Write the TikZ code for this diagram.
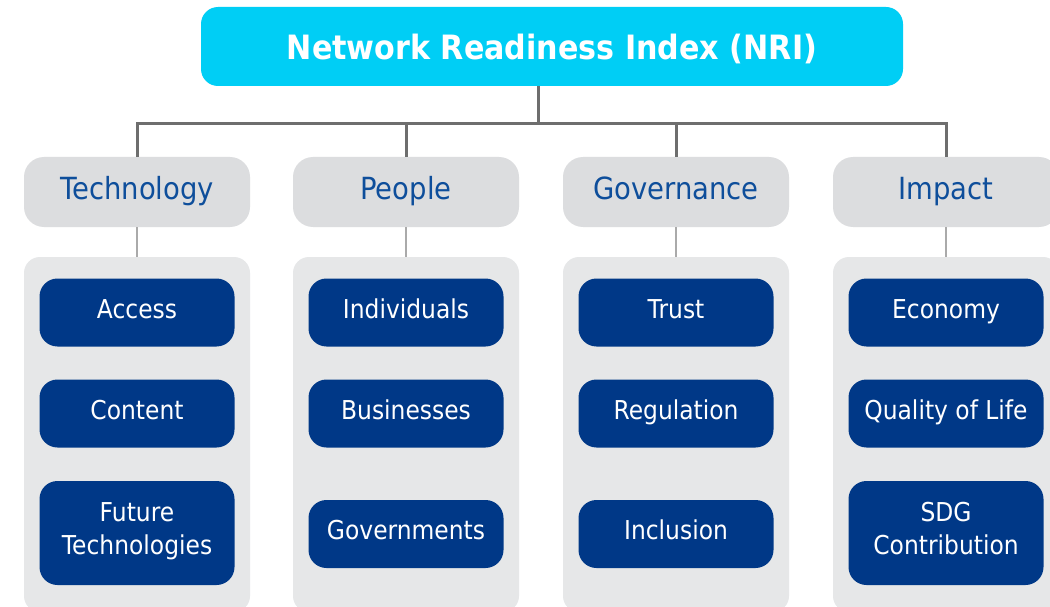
\documentclass[tikz,border=0pt]{standalone}
\usepackage{fontspec}
\setmainfont{DejaVu Sans}[FakeStretch=0.9]
\definecolor{titlecyan}{RGB}{0,206,245}
\definecolor{catgray}{RGB}{220,221,223}
\definecolor{catblue}{RGB}{14,78,155}
\definecolor{panelgray}{RGB}{230,231,232}
\definecolor{itemblue}{RGB}{0,56,135}
\definecolor{topline}{RGB}{110,110,110}
\definecolor{lowline}{RGB}{170,170,170}
\tikzset{
  titlebox/.style={fill=titlecyan, rounded corners=17pt, minimum width=702pt, minimum height=79pt, inner sep=0pt,
    text=white, font=\fontsize{33.5}{40}\selectfont\bfseries, text height=27pt, text depth=0pt},
  catbox/.style={fill=catgray, rounded corners=20pt, minimum width=226pt, minimum height=70pt, inner sep=0pt,
    text=catblue, font=\fontsize{30.5}{36}\selectfont, text height=22pt, text depth=6pt},
  panelbox/.style={fill=panelgray, rounded corners=16pt, minimum width=226pt, minimum height=355pt, inner sep=0pt},
  itembox/.style={fill=itemblue, rounded corners=18pt, minimum width=195pt, minimum height=68pt, inner sep=0pt,
    text=white, align=center, font=\fontsize{26}{33}\selectfont, text height=19pt, text depth=8pt},
  tallbox/.style={itembox, minimum height=104pt, text height=51pt, text depth=8pt},
  conntop/.style={draw=topline, line width=3pt},
  connlow/.style={draw=lowline, line width=2.6pt},
}
\begin{document}
\begin{tikzpicture}[x=1pt, y=-1pt]
\clip (0,0) rectangle (1050,607);
\fill[white] (0,0) rectangle (1050,607);
% title
\node[titlebox] (title) at (552,46.5) {Network Readiness Index (NRI)};
% categories
\node[catbox] (tech) at (137,192) {Technology};
\node[catbox] (peop) at (406,192) {People};
\node[catbox] (gov)  at (676,192) {Governance};
\node[catbox] (imp)  at (946,192) {Impact};
% panels
\node[panelbox] (techp) at (137,434.5) {};
\node[panelbox] (peopp) at (406,434.5) {};
\node[panelbox] (govp)  at (676,434.5) {};
\node[panelbox] (impp)  at (946,434.5) {};
% connectors
\coordinate (j) at (538,124);
\draw[conntop] (title.south -| j) -- (j);
\draw[conntop] (tech.north) -- (tech.north |- j) -- (imp.north |- j) -- (imp.north);
\draw[conntop] (peop.north) -- (peop.north |- j);
\draw[conntop] (gov.north) -- (gov.north |- j);
\draw[connlow] (tech.south) -- (techp.north);
\draw[connlow] (peop.south) -- (peopp.north);
\draw[connlow] (gov.south) -- (govp.north);
\draw[connlow] (imp.south) -- (impp.north);
% items
\node[itembox] (access) at (137,312.5) {Access};
\node[itembox] (content) at (137,413.5) {Content};
\node[tallbox] (future) at (137,533) {Future\\Technologies};
\node[itembox] (indiv) at (406,312.5) {Individuals};
\node[itembox] (busi) at (406,413.5) {Businesses};
\node[itembox] (govs) at (406,534) {Governments};
\node[itembox] (trust) at (676,312.5) {Trust};
\node[itembox] (regul) at (676,413.5) {Regulation};
\node[itembox] (incl) at (676,534) {Inclusion};
\node[itembox] (econ) at (946,312.5) {Economy};
\node[itembox] (qol) at (946,413.5) {Quality of Life};
\node[tallbox] (sdg) at (946,533) {SDG\\Contribution};
\end{tikzpicture}
\end{document}
